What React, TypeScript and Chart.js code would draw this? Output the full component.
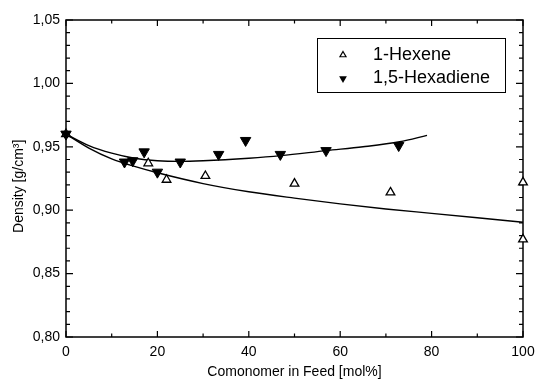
import React, { useEffect, useRef } from "react";
import { Chart, registerables } from "chart.js";

Chart.register(...registerables);

const FONT = "'Liberation Sans', Arial, sans-serif";

// Measured data
const hexeneX = [0, 18, 22, 30.5, 50, 71, 100, 100];
const hexeneY = [0.96, 0.937, 0.924, 0.927, 0.921, 0.914, 0.922, 0.877];

const hexadieneX = [0, 12.8, 14.6, 17.1, 20, 25, 33.4, 39.3, 46.9, 56.9, 72.8];
const hexadieneY = [0.96, 0.938, 0.939, 0.946, 0.93, 0.938, 0.944, 0.955, 0.944, 0.947, 0.951];

// Fitted curves
const hexeneFitX = [0, 5, 10, 15, 20, 30, 40, 50, 60, 70, 80, 90, 100];
const hexeneFitY = [0.96, 0.949, 0.9405, 0.9345, 0.9295, 0.921, 0.9145, 0.9095, 0.905, 0.901, 0.8975, 0.894, 0.8905];

const hexadieneFitX = [0, 5, 10, 15, 20, 25, 30, 40, 47, 57, 65, 73, 79];
const hexadieneFitY = [0.96, 0.951, 0.945, 0.941, 0.939, 0.9385, 0.939, 0.941, 0.943, 0.947, 0.95, 0.954, 0.959];

const xTicks = [0, 20, 40, 60, 80, 100];
const yMin = 0.8;
const yMax = 1.05;

const seriesLabels = ["1-Hexene", "1,5-Hexadiene"];

const zip = (xs: number[], ys: number[]) => xs.map((x, i) => ({ x, y: ys[i] }));

function tri(ctx: CanvasRenderingContext2D, x: number, y: number, r: number, down: boolean) {
  const s = down ? -1 : 1;
  ctx.beginPath();
  ctx.moveTo(x, y - s * r);
  ctx.lineTo(x + r * Math.sin((2 * Math.PI) / 3), y + s * r * 0.5);
  ctx.lineTo(x - r * Math.sin((2 * Math.PI) / 3), y + s * r * 0.5);
  ctx.closePath();
}

const framePlugin = {
  id: "frame",
  beforeDatasetsDraw(chart: any) {
    const { ctx, chartArea: a, scales } = chart;
    const xs = scales.x;
    const ys = scales.y;
    ctx.save();
    ctx.strokeStyle = "#000";
    ctx.lineWidth = 1.5;
    ctx.strokeRect(a.left, a.top, a.right - a.left, a.bottom - a.top);
    ctx.lineWidth = 1.2;
    ctx.beginPath();
    for (let v = 0; v <= 100; v += 10) {
      const px = xs.getPixelForValue(v);
      const len = v % 20 === 0 ? 6 : 3.5;
      ctx.moveTo(px, a.bottom);
      ctx.lineTo(px, a.bottom - len);
      ctx.moveTo(px, a.top);
      ctx.lineTo(px, a.top + len);
    }
    for (let i = 0; i <= 25; i++) {
      const v = yMin + i * 0.01;
      const py = ys.getPixelForValue(v);
      const len = i % 5 === 0 ? 7 : 4;
      ctx.moveTo(a.left, py);
      ctx.lineTo(a.left + len, py);
      ctx.moveTo(a.right, py);
      ctx.lineTo(a.right - len, py);
    }
    ctx.stroke();
    ctx.restore();
  },
  afterDraw(chart: any) {
    const { ctx } = chart;
    ctx.save();
    ctx.strokeStyle = "#000";
    ctx.lineWidth = 1;
    ctx.strokeRect(317.5, 38.5, 188, 54);
    ctx.fillStyle = "#000";
    ctx.font = `18px ${FONT}`;
    ctx.textBaseline = "middle";
    ctx.fillText(seriesLabels[0], 373, 55);
    ctx.fillText(seriesLabels[1], 373, 78);
    ctx.lineWidth = 1.2;
    tri(ctx, 343, 55, 3.5, false);
    ctx.stroke();
    tri(ctx, 343, 78.5, 4.5, true);
    ctx.fill();
    ctx.restore();
  },
};

export default function App() {
  const ref = useRef<HTMLCanvasElement | null>(null);
  useEffect(() => {
    if (!ref.current) return;
    const chart = new Chart(ref.current, {
      type: "scatter",
      data: {
        datasets: [
          {
            label: "1-Hexene fit",
            data: zip(hexeneFitX, hexeneFitY),
            showLine: true,
            borderColor: "#000",
            borderWidth: 1.4,
            pointRadius: 0,
            cubicInterpolationMode: "monotone",
            clip: false,
            order: 3,
          } as any,
          {
            label: "1,5-Hexadiene fit",
            data: zip(hexadieneFitX, hexadieneFitY),
            showLine: true,
            borderColor: "#000",
            borderWidth: 1.4,
            pointRadius: 0,
            cubicInterpolationMode: "monotone",
            clip: false,
            order: 3,
          } as any,
          {
            label: seriesLabels[0],
            data: zip(hexeneX, hexeneY),
            pointStyle: "triangle",
            pointRadius: 5,
            borderColor: "#000",
            backgroundColor: "#fff",
            pointBorderWidth: 1.3,
            clip: false,
            order: 2,
          } as any,
          {
            label: seriesLabels[1],
            data: zip(hexadieneX, hexadieneY),
            pointStyle: "triangle",
            pointRotation: 180,
            pointRadius: 6,
            borderColor: "#000",
            backgroundColor: "#000",
            clip: false,
            order: 1,
          } as any,
        ],
      },
      options: {
        animation: false,
        responsive: false,
        maintainAspectRatio: false,
        layout: { padding: { top: 20, right: 1, left: 0, bottom: 0 } },
        plugins: { legend: { display: false }, tooltip: { enabled: false } },
        scales: {
          x: {
            type: "linear",
            min: 0,
            max: 100,
            afterFit: (s: any) => {
              s.height = 43;
              s.paddingRight = 12;
              s.paddingLeft = 0;
            },
            afterBuildTicks: (s: any) => {
              s.ticks = xTicks.map((v) => ({ value: v }));
            },
            grid: { display: false, drawTicks: false },
            border: { display: false },
            ticks: {
              padding: 7,
              color: "#000",
              font: { family: FONT, size: 14 },
              maxRotation: 0,
              autoSkip: false,
            },
            title: {
              display: true,
              text: "Comonomer in Feed [mol%]",
              color: "#000",
              font: { family: FONT, size: 14, lineHeight: 1 },
              padding: { top: 0, bottom: 1 },
            },
          },
          y: {
            type: "linear",
            min: yMin,
            max: yMax,
            afterFit: (s: any) => {
              s.width = 66;
            },
            grid: { display: false, drawTicks: false },
            border: { display: false },
            ticks: {
              stepSize: 0.05,
              padding: 6,
              color: "#000",
              font: { family: FONT, size: 14 },
              callback: (v: any) => Number(v).toFixed(2).replace(".", ","),
            },
            title: {
              display: true,
              text: "Density [g/cm³]\u00A0\u00A0\u00A0\u00A0",
              color: "#000",
              font: { family: FONT, size: 14 },
              padding: { top: 11, bottom: 0 },
            },
          },
        },
      },
      plugins: [framePlugin],
    });
    return () => chart.destroy();
  }, []);
  return (
    <div style={{ position: "fixed", left: 0, top: 0, width: 535, height: 380, background: "#fff" }}>
      <canvas ref={ref} width={535} height={380} style={{ width: 535, height: 380 }} />
    </div>
  );
}
